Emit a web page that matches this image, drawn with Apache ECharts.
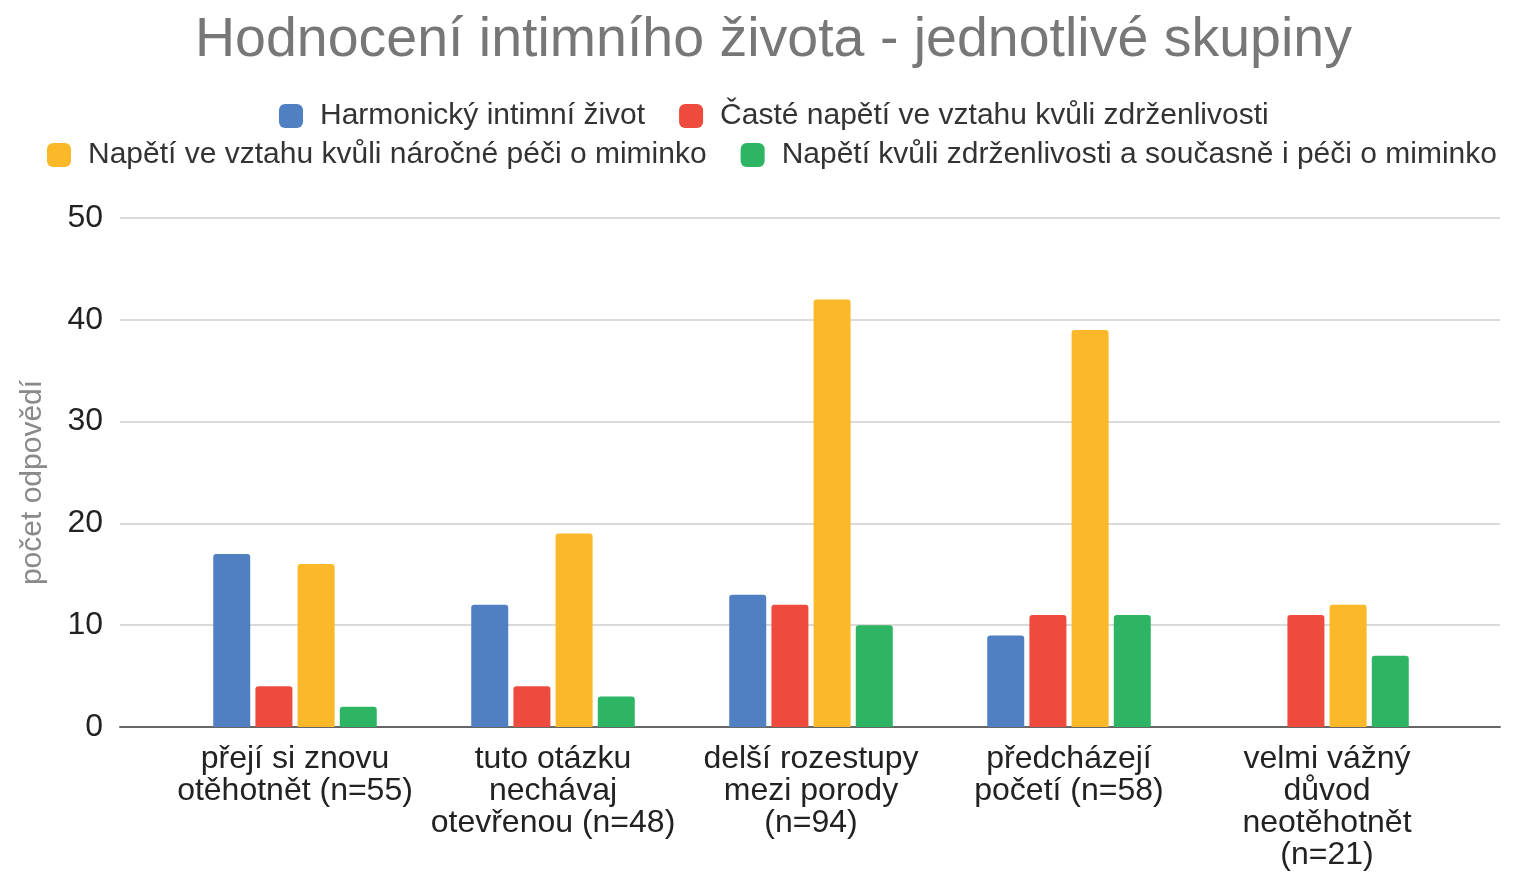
<!DOCTYPE html>
<html>
<head>
<meta charset="utf-8">
<script src="https://cdn.jsdelivr.net/npm/echarts@6/dist/echarts.min.js"></script>
<style>
html,body{margin:0;padding:0;background:#fff;}
#chart{width:1517px;height:885px;}
</style>
</head>
<body>
<div id="chart"></div>
<script>
const title = 'Hodnocení intimního života - jednotlivé skupiny';
const categories = [
  'přejí si znovu\notěhotnět (n=55)',
  'tuto otázku\nnechávaj\notevřenou (n=48)',
  'delší rozestupy\nmezi porody\n(n=94)',
  'předcházejí\npočetí (n=58)',
  'velmi vážný\ndůvod\nneotěhotnět\n(n=21)'
];
const seriesNames = [
  'Harmonický intimní život',
  'Časté napětí ve vztahu kvůli zdrženlivosti',
  'Napětí ve vztahu kvůli náročné péči o miminko',
  'Napětí kvůli zdrženlivosti a současně i péči o miminko'
];
const harmonicky = [17, 12, 13, 9, 0];
const zdrzenlivost = [4, 4, 12, 11, 11];
const peceOMiminko = [16, 19, 42, 39, 12];
const obojiNapeti = [2, 3, 10, 11, 7];
const yTicks = [0, 10, 20, 30, 40, 50];
const yAxisName = 'počet odpovědí';
const colors = ['#5180C2', '#EE4B3E', '#FBB829', '#2DB563'];

const chart = echarts.init(document.getElementById('chart'));
const valuesList = [harmonicky, zdrzenlivost, peceOMiminko, obojiNapeti];
const legendText = {fontFamily: 'Liberation Sans', fontSize: 30, color: '#333', padding: [0, 0, 0, 12]};
chart.setOption({
  backgroundColor: '#fff',
  color: colors,
  title: {
    text: title, left: 190, top: 8,
    textStyle: {fontFamily: 'Liberation Sans', fontSize: 55.5, fontWeight: 'normal', color: '#777'}
  },
  legend: [
    {data: seriesNames.slice(0, 2), left: 274, top: 96, itemWidth: 24, itemHeight: 24, itemGap: 34,
     icon: 'roundRect', textStyle: legendText},
    {data: seriesNames.slice(2, 4), left: 42, top: 135, itemWidth: 24, itemHeight: 24, itemGap: 34,
     icon: 'roundRect', textStyle: legendText}
  ],
  grid: [
    {left: 120, right: 17, top: 218, bottom: 158},
    {left: 166, right: 61, top: 218, bottom: 158}
  ],
  xAxis: [
    {gridIndex: 0, type: 'value', min: 0, max: 1, axisLine: {show: true, onZero: false, lineStyle: {color: '#666', width: 2}},
     axisTick: {show: false}, axisLabel: {show: false}, splitLine: {show: false}},
    {gridIndex: 1, type: 'category', data: categories, axisLine: {show: false}, axisTick: {show: false},
     axisLabel: {interval: 0, margin: 16, fontFamily: 'Liberation Sans', fontSize: 32, color: '#222', lineHeight: 32, align: 'center'}}
  ],
  yAxis: [
    {gridIndex: 0, type: 'value', min: yTicks[0], max: yTicks[yTicks.length - 1], interval: 10,
     name: yAxisName, nameLocation: 'middle', nameGap: 72, nameRotate: 90,
     nameTextStyle: {fontFamily: 'Liberation Sans', fontSize: 30, color: '#8a8a8a', padding: [0, 20, 0, 0]},
     axisLine: {show: false}, axisTick: {show: false},
     axisLabel: {margin: 17, fontFamily: 'Liberation Sans', fontSize: 32, color: '#222'},
     splitLine: {lineStyle: {color: '#dadada', width: 2}}},
    {gridIndex: 1, type: 'value', min: yTicks[0], max: yTicks[yTicks.length - 1], interval: 10,
     axisLine: {show: false}, axisTick: {show: false}, axisLabel: {show: false}, splitLine: {show: false}}
  ],
  series: seriesNames.map((name, i) => ({
    name, type: 'bar', xAxisIndex: 1, yAxisIndex: 1, data: valuesList[i],
    barWidth: 37, barGap: '14%', z: 3,
    itemStyle: {color: colors[i], borderRadius: [3, 3, 0, 0]}
  }))
});
</script>
</body>
</html>
